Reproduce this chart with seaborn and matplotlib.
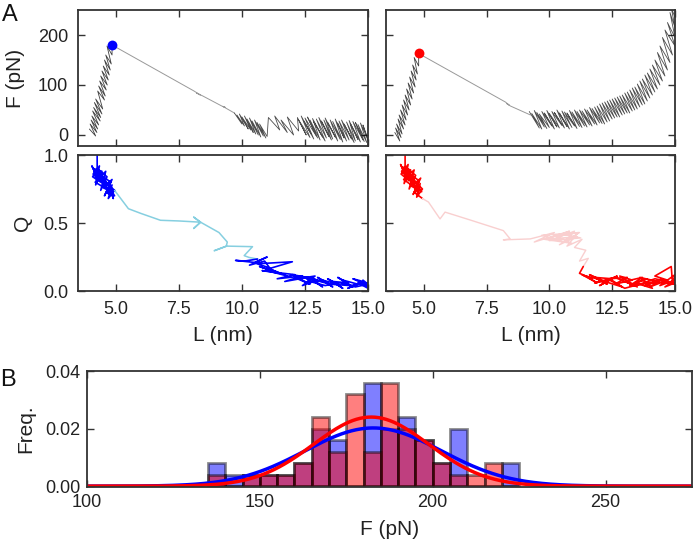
import numpy as np
import matplotlib
matplotlib.use("Agg")
import matplotlib.pyplot as plt
import seaborn as sns
from matplotlib.ticker import FormatStrFormatter

# ---- panel A, top left: force vs extension (blue event) ----
tl_rise_L = [3.95, 4.20, 3.98, 4.25, 4.02, 4.28, 4.05, 4.32, 4.08, 4.38,
             4.12, 4.40, 4.15, 4.45, 4.20, 4.48, 4.28, 4.55, 4.32, 4.58,
             4.36, 4.62, 4.40, 4.66, 4.45, 4.70, 4.50, 4.74, 4.55, 4.78,
             4.60, 4.82, 4.65, 4.85, 4.85]
tl_rise_F = [12, -2, 22, 5, 30, 12, 38, 20, 48, 28,
             55, 35, 65, 42, 72, 52, 88, 70, 98, 78,
             108, 90, 118, 100, 128, 110, 138, 120, 150, 130,
             160, 142, 178, 160, 180]
tl_jump_L = [4.85, 8.10, 8.35, 8.20, 8.45, 9.20, 9.35, 9.25, 9.70]
tl_jump_F = [180, 88, 80, 84, 78, 58, 55, 57, 44]
tl_tail_L = [9.70, 10.00, 9.80, 10.10, 9.90, 10.25, 10.00, 10.35, 10.10, 10.45,
             10.20, 10.55, 10.30, 10.65, 10.40, 10.75, 10.50, 10.85, 10.60, 10.95,
             10.70, 11.00,
             11.05, 11.50, 11.30, 11.80, 11.55, 12.05, 11.80, 12.25,
             12.20, 12.55, 12.25, 12.70, 12.35, 12.75, 12.45, 12.85, 12.50, 12.95,
             12.60, 13.00, 12.70, 13.10, 12.80, 13.20, 12.85, 13.30, 12.95, 13.35,
             13.05, 13.45, 13.15, 13.55, 13.25, 13.60, 13.30, 13.70, 13.40, 13.80,
             13.50, 13.90, 13.60, 14.00, 13.70, 14.05, 13.80, 14.15, 13.85, 14.25,
             13.95, 14.35, 14.05, 14.45, 14.15, 14.50, 14.25, 14.60, 14.30, 14.70,
             14.40, 14.80, 14.50, 14.85, 14.60, 14.95, 14.70, 15.00, 14.80, 15.00]
tl_tail_F = [44, 22, 40, 18, 42, 12, 36, 10, 38, 5,
             32, 2, 34, 0, 28, -4, 30, -2, 25, -6,
             22, -3,
             35, 10, 38, 5, 30, 0, 36, 8,
             35, 0, 30, -5, 38, 2, 28, -8, 34, -2,
             36, -6, 30, -10, 33, -4, 26, -12, 32, -6,
             35, -3, 28, -10, 30, -8, 34, -4, 25, -12,
             30, -9, 27, -14, 32, -6, 24, -12, 28, -10,
             30, -8, 22, -15, 26, -12, 29, -9, 23, -14,
             27, -10, 25, -13, 21, -15, 24, -8, 20, -12]
tl_peak = (4.85, 180)

# ---- panel A, top right: force vs extension (red event) ----
tr_rise_L = [3.85, 4.05, 3.88, 4.10, 3.92, 4.14, 3.98, 4.20, 4.02, 4.26,
             4.08, 4.30, 4.14, 4.36, 4.20, 4.42, 4.26, 4.48, 4.32, 4.54,
             4.38, 4.60, 4.44, 4.66, 4.50, 4.70, 4.56, 4.75, 4.62, 4.80, 4.80]
tr_rise_F = [5, -12, 14, -5, 22, 2, 32, 12, 40, 20,
             50, 30, 60, 40, 70, 50, 80, 60, 92, 72,
             104, 84, 116, 96, 128, 110, 140, 122, 155, 138, 163]
tr_jump_L = [4.80, 8.25, 8.40, 8.30, 8.45, 9.25]
tr_jump_F = [163, 66, 60, 63, 58, 40]
tr_tail_L = [9.2, 9.6, 9.3, 9.7, 9.4, 9.8, 9.5, 9.9, 9.6, 10.0,
             9.7, 10.1, 9.8, 10.2, 9.9, 10.3, 10.0, 10.4, 10.1, 10.5,
             10.2, 10.6, 10.3, 10.7, 10.4, 10.8, 10.5, 10.9, 10.6, 11.0,
             10.7, 11.1, 10.8, 11.2, 10.9, 11.3, 11.0, 11.4, 11.1, 11.5,
             11.2, 11.6, 11.3, 11.7, 11.4, 11.8, 11.5, 11.9, 11.6, 12.0,
             11.7, 12.1, 11.8, 12.2, 11.9, 12.3, 12.0, 12.4, 12.1, 12.5,
             12.2, 12.6, 12.3, 12.7, 12.4, 12.8, 12.5, 12.9, 12.6, 13.0,
             12.7, 13.1, 12.8, 13.2, 12.9, 13.3, 13.0, 13.4, 13.1, 13.5,
             13.2, 13.6, 13.3, 13.7, 13.4, 13.8, 13.5, 13.9, 13.6, 14.0,
             13.7, 14.1, 13.8, 14.2, 13.9, 14.3, 14.0, 14.4, 14.1, 14.5,
             14.2, 14.6, 14.3, 14.7, 14.4, 14.8, 14.5, 14.9, 14.6, 15.0,
             14.7, 15.0, 14.8, 15.0, 14.85, 15.0]
tr_tail_F = [47, 14, 43, 12, 49, 16, 45, 13, 42, 15,
             47, 18, 44, 12, 49, 16, 43, 14, 47, 19,
             45, 14, 50, 17, 44, 12, 48, 15, 46, 18,
             44, 13, 49, 17, 46, 15, 50, 18, 47, 16,
             50, 20, 48, 18, 52, 22, 50, 20, 55, 24,
             53, 23, 56, 22, 58, 26, 62, 28, 64, 32,
             66, 34, 68, 36, 70, 36, 72, 40, 74, 42,
             76, 44, 78, 44, 80, 48, 84, 50, 86, 52,
             90, 56, 94, 60, 96, 62, 102, 68, 108, 74,
             112, 80, 120, 86, 124, 92, 132, 100, 140, 108,
             150, 118, 165, 130, 178, 145, 195, 160, 210, 178,
             225, 195, 245, 215, 255, 235]
tr_peak = (4.80, 163)

# ---- panel A, bottom left: Q vs extension (blue) ----
bl1_L = [4.26, 4.26, 4.10, 4.30, 4.05, 4.25, 4.15, 4.40, 4.08, 4.35,
         4.20, 4.45, 4.12, 4.50, 4.30, 4.55, 4.18, 4.60, 4.40, 4.65,
         4.25, 4.70, 4.45, 4.75, 4.35, 4.80, 4.55, 4.85, 4.50, 4.90,
         4.60, 4.95, 4.70, 4.85, 4.65, 4.95, 4.75, 4.90, 4.80, 4.95]
bl1_Q = [1.00, 0.90, 0.86, 0.82, 0.92, 0.84, 0.88, 0.80, 0.84, 0.92,
         0.78, 0.88, 0.90, 0.82, 0.86, 0.76, 0.80, 0.88, 0.74, 0.84,
         0.90, 0.78, 0.82, 0.72, 0.86, 0.80, 0.70, 0.82, 0.76, 0.72,
         0.80, 0.74, 0.68, 0.78, 0.72, 0.70, 0.76, 0.68, 0.74, 0.74]
bl2_L = [4.95, 5.50, 6.00, 6.77, 7.50, 8.36, 8.09, 8.36, 8.09, 8.36,
         9.09, 9.42, 9.38, 8.90, 9.40, 10.42, 10.09, 10.28, 10.62]
bl2_Q = [0.74, 0.605, 0.57, 0.52, 0.515, 0.506, 0.543, 0.506, 0.46, 0.506,
         0.43, 0.36, 0.33, 0.296, 0.33, 0.326, 0.26, 0.247, 0.235]
bl3_L = [10.62, 10.10, 9.75, 10.50, 11.00, 10.30, 10.90, 11.10, 10.60, 12.00,
         11.00, 10.70, 11.30, 10.80, 11.50, 11.00, 11.80, 11.20, 12.10, 11.40,
         12.40, 11.70, 12.60, 12.00, 12.70, 12.20, 12.90, 12.40, 13.00, 12.60,
         13.20, 12.80, 13.40, 13.00, 13.60, 13.20, 13.80, 13.40, 14.00, 13.60,
         14.20, 13.80, 14.40, 14.00, 14.60, 14.20, 14.80, 14.40, 15.00, 14.60,
         15.00, 14.80, 15.00, 14.50, 13.90, 13.30, 12.70, 12.50, 13.50, 14.30, 15.00]
bl3_Q = [0.235, 0.22, 0.225, 0.21, 0.25, 0.19, 0.22, 0.17, 0.20, 0.215,
         0.16, 0.18, 0.14, 0.15, 0.13, 0.17, 0.11, 0.14, 0.12, 0.09,
         0.11, 0.07, 0.10, 0.12, 0.05, 0.09, 0.11, 0.04, 0.08, 0.10,
         0.03, 0.09, 0.06, 0.10, 0.03, 0.08, 0.05, 0.09, 0.02, 0.07,
         0.06, 0.10, 0.03, 0.08, 0.05, 0.02, 0.07, 0.09, 0.04, 0.06,
         0.02, 0.08, 0.05, 0.03, 0.06, 0.04, 0.07, 0.10, 0.05, 0.04, 0.06]

# ---- panel A, bottom right: Q vs extension (red) ----
br1_L = [4.26, 4.26, 4.12, 4.32, 4.08, 4.28, 4.18, 4.42, 4.10, 4.38,
         4.22, 4.48, 4.15, 4.52, 4.32, 4.58, 4.20, 4.62, 4.42, 4.68,
         4.28, 4.72, 4.48, 4.78, 4.38, 4.82, 4.58, 4.88, 4.52, 4.92,
         4.62, 4.95, 4.72, 4.86, 4.66, 4.95]
br1_Q = [1.00, 0.92, 0.88, 0.84, 0.93, 0.85, 0.89, 0.81, 0.86, 0.93,
         0.79, 0.89, 0.91, 0.83, 0.87, 0.77, 0.82, 0.89, 0.75, 0.85,
         0.91, 0.79, 0.83, 0.73, 0.87, 0.81, 0.71, 0.83, 0.77, 0.73,
         0.81, 0.75, 0.69, 0.79, 0.72, 0.68]
br2_L = [4.95, 5.19, 5.65, 5.85, 6.80, 8.17, 8.44, 8.17, 9.24, 9.60,
         10.20, 9.40, 10.80, 9.90, 11.10, 10.40, 11.20, 9.70, 10.60, 11.00,
         10.00, 11.25, 10.50, 9.80, 10.90, 10.30, 11.15, 10.70, 11.30, 11.00,
         11.45, 11.20, 11.55, 11.35]
br2_Q = [0.68, 0.654, 0.53, 0.58, 0.525, 0.444, 0.383, 0.376, 0.383, 0.40,
         0.43, 0.36, 0.44, 0.38, 0.40, 0.34, 0.43, 0.41, 0.36, 0.44,
         0.37, 0.39, 0.42, 0.38, 0.35, 0.40, 0.43, 0.33, 0.38, 0.32,
         0.30, 0.22, 0.24, 0.18]
br3_L = [11.35, 11.20, 11.70, 11.30, 11.90, 11.45, 12.10, 11.60, 12.30, 11.80,
         12.50, 12.00, 12.70, 12.20, 12.90, 12.40, 13.10, 12.60, 13.30, 12.80,
         13.50, 13.00, 13.70, 13.20, 13.90, 13.40, 14.10, 13.60, 14.30, 13.80,
         14.50, 14.00, 14.70, 14.20, 14.85, 14.90, 15.00, 14.40, 15.00, 14.60,
         15.00, 14.20, 13.60, 13.00, 12.40, 11.80, 12.60, 13.40, 14.20, 15.00]
br3_Q = [0.18, 0.13, 0.09, 0.12, 0.06, 0.11, 0.08, 0.12, 0.05, 0.10,
         0.09, 0.04, 0.11, 0.07, 0.03, 0.09, 0.10, 0.05, 0.08, 0.11,
         0.03, 0.07, 0.10, 0.04, 0.09, 0.06, 0.02, 0.10, 0.07, 0.04,
         0.09, 0.03, 0.08, 0.11, 0.18, 0.06, 0.12, 0.04, 0.08, 0.03,
         0.06, 0.09, 0.05, 0.02, 0.08, 0.06, 0.10, 0.04, 0.07, 0.05]

# ---- panel B: unfolding force histograms (counts per 5 pN bin) ----
bin_edges = [135, 140, 145, 150, 155, 160, 165, 170, 175, 180,
             185, 190, 195, 200, 205, 210, 215, 220, 225]
bin_centers = [137.5, 142.5, 147.5, 152.5, 157.5, 162.5, 167.5, 172.5, 177.5,
               182.5, 187.5, 192.5, 197.5, 202.5, 207.5, 212.5, 217.5, 222.5]
blue_counts = [2, 1, 1, 1, 1, 2, 5, 4, 0, 9, 5, 6, 4, 2, 5, 0, 0, 2]
red_counts = [1, 0, 1, 1, 1, 2, 6, 3, 8, 3, 9, 5, 4, 2, 1, 1, 2, 0]

sns.set_style("ticks")
plt.rcParams['font.family'] = ['Liberation Sans', 'DejaVu Sans']
plt.rcParams['axes.edgecolor'] = '#333333'
plt.rcParams['axes.linewidth'] = 1.3

fig = plt.figure(figsize=(6.93, 5.46), dpi=100)
W, H = 693.0, 546.0

def px_axes(x0, y0, x1, y1):
    return fig.add_axes([x0 / W, 1 - y1 / H, (x1 - x0) / W, (y1 - y0) / H])

ax_tl = px_axes(78, 10, 368, 146)
ax_tr = px_axes(386, 10, 675, 146)
ax_bl = px_axes(78, 155, 368, 291)
ax_br = px_axes(386, 155, 675, 291)
ax_b = px_axes(87, 371, 692, 487)

trace_kw = dict(sort=False, estimator=None, legend=False)

# force traces
for ax, (rL, rF), (jL, jF), (tL, tF), peak, pcol in (
        (ax_tl, (tl_rise_L, tl_rise_F), (tl_jump_L, tl_jump_F), (tl_tail_L, tl_tail_F), tl_peak, '#0000ff'),
        (ax_tr, (tr_rise_L, tr_rise_F), (tr_jump_L, tr_jump_F), (tr_tail_L, tr_tail_F), tr_peak, '#ff0000')):
    sns.lineplot(x=jL, y=jF, color='#999999', linewidth=0.7, ax=ax, **trace_kw)
    sns.lineplot(x=rL, y=rF, color='black', alpha=0.75, linewidth=0.6, ax=ax, **trace_kw)
    sns.lineplot(x=tL, y=tF, color='black', alpha=0.7, linewidth=0.6, ax=ax, **trace_kw)
    sns.scatterplot(x=[peak[0]], y=[peak[1]], color=pcol, s=50, linewidth=0, ax=ax, zorder=5)

# Q traces
sns.lineplot(x=bl1_L, y=bl1_Q, color='#0000ff', linewidth=1.2, ax=ax_bl, **trace_kw)
sns.lineplot(x=bl2_L, y=bl2_Q, color='#86cfe0', linewidth=1.1, ax=ax_bl, **trace_kw)
sns.lineplot(x=bl3_L, y=bl3_Q, color='#0000ff', linewidth=1.2, ax=ax_bl, **trace_kw)
sns.lineplot(x=br1_L, y=br1_Q, color='#ff0000', linewidth=1.2, ax=ax_br, **trace_kw)
sns.lineplot(x=br2_L, y=br2_Q, color='#f9cfcf', linewidth=1.0, ax=ax_br, **trace_kw)
sns.lineplot(x=br3_L, y=br3_Q, color='#ff0000', linewidth=1.2, ax=ax_br, **trace_kw)

for ax in (ax_tl, ax_tr, ax_bl, ax_br):
    ax.set_xlim(3.5, 15)
    ax.set_xticks([5, 7.5, 10, 12.5, 15])
    ax.xaxis.set_major_formatter(FormatStrFormatter('%.1f'))
    ax.tick_params(direction='in', top=True, right=True, length=5, width=1,
                   colors='#333333', labelcolor='#222222', labelsize=13, pad=7)
    ax.set_xlabel('')
    ax.set_ylabel('')

for ax in (ax_tl, ax_tr):
    ax.set_ylim(-22, 250)
    ax.set_yticks([0, 100, 200])
    ax.tick_params(labelbottom=False)
for ax in (ax_bl, ax_br):
    ax.set_ylim(0, 1.0)
    ax.set_yticks([0, 0.5, 1.0])
    ax.yaxis.set_major_formatter(FormatStrFormatter('%.1f'))
for ax in (ax_tr, ax_br):
    ax.tick_params(labelleft=False)

ax_tl.set_ylabel('F (pN)', fontsize=15, color='#222222')
ax_tl.yaxis.set_label_coords(-0.217, 0.5)
ax_bl.set_ylabel('Q', fontsize=15, color='#222222')
ax_bl.yaxis.set_label_coords(-0.19, 0.5)
for ax in (ax_bl, ax_br):
    ax.set_xlabel('L (nm)', fontsize=15, color='#222222')
    ax.xaxis.set_label_coords(0.5, -0.33)
    ax.xaxis.label.set_va('center')
for ax in (ax_tl, ax_bl):
    ax.yaxis.label.set_va('center')

# panel B
edge = (0, 0, 0, 0.45)
sns.histplot(x=bin_centers, weights=blue_counts, bins=bin_edges, stat='density',
             color='#0000ff', alpha=0.5, edgecolor=edge, linewidth=2, ax=ax_b)
sns.histplot(x=bin_centers, weights=red_counts, bins=bin_edges, stat='density',
             color='#ff0000', alpha=0.5, edgecolor=edge, linewidth=2, ax=ax_b)

grid = np.linspace(100, 280, 500)
for counts, col in ((blue_counts, '#0000ff'), (red_counts, '#ff0000')):
    mu = np.average(bin_centers, weights=counts)
    sd = np.sqrt(np.average((np.array(bin_centers) - mu) ** 2, weights=counts))
    pdf = np.exp(-0.5 * ((grid - mu) / sd) ** 2) / (sd * np.sqrt(2 * np.pi))
    sns.lineplot(x=grid, y=pdf, color=col, linewidth=2.5, ax=ax_b)

ax_b.set_xlim(100, 275)
ax_b.set_ylim(-0.0003, 0.04)
ax_b.set_xticks([100, 150, 200, 250])
ax_b.set_yticks([0, 0.02, 0.04])
ax_b.yaxis.set_major_formatter(FormatStrFormatter('%.2f'))
ax_b.tick_params(direction='in', top=True, right=True, length=5, width=1,
                 colors='#333333', labelcolor='#222222', labelsize=13, pad=5)
ax_b.set_xlabel('F (pN)', fontsize=15, color='#222222')
ax_b.set_ylabel('Freq.', fontsize=15, color='#222222')
ax_b.xaxis.set_label_coords(0.5, -0.37)
ax_b.yaxis.set_label_coords(-0.102, 0.5)
ax_b.xaxis.label.set_va('center')
ax_b.yaxis.label.set_va('center')

fig.text(0.003, 0.992, 'A', fontsize=17, va='top', ha='left', color='#111111')
fig.text(0.0, 0.324, 'B', fontsize=17, va='top', ha='left', color='#111111')

fig.savefig('out.png', dpi=100)
